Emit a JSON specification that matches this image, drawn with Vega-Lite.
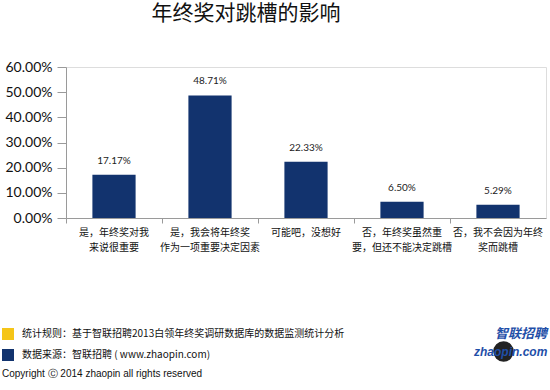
{
  "$schema": "https://vega.github.io/schema/vega-lite/v6.json",
  "autosize": {"type": "none"},
  "width": 480,
  "height": 151,
  "padding": {"left": 66, "top": 67, "right": 4, "bottom": 172},
  "background": "white",
  "title": {
    "text": "年终奖对跳槽的影响",
    "font": "Noto Sans CJK SC",
    "fontSize": 21,
    "lineHeight": 22,
    "fontWeight": "normal",
    "color": "#111111",
    "anchor": "middle",
    "dx": -60,
    "offset": 36
  },
  "data": {
    "values": [
      {"category": "是，年终奖对我\n来说很重要", "share": 0.1717},
      {"category": "是，我会将年终奖\n作为一项重要决定因素", "share": 0.4871},
      {"category": "可能吧，没想好", "share": 0.2233},
      {"category": "否，年终奖虽然重\n要，但还不能决定跳槽", "share": 0.065},
      {"category": "否，我不会因为年终\n奖而跳槽", "share": 0.0529}
    ]
  },
  "encoding": {
    "x": {
      "field": "category",
      "type": "nominal",
      "sort": null,
      "scale": {"paddingInner": 0, "paddingOuter": 0},
      "axis": {
        "title": null,
        "labelAngle": 0,
        "labelExpr": "split(datum.label, '\\n')",
        "labelFont": "Noto Sans CJK SC",
        "labelFontSize": 10,
        "labelColor": "#111111",
        "labelLineHeight": 15,
        "labelPadding": 4,
        "labelLimit": 200,
        "bandPosition": 0,
        "tickSize": 5,
        "tickColor": "#9a9a9a",
        "domainColor": "#9a9a9a",
        "grid": false
      }
    },
    "y": {
      "field": "share",
      "type": "quantitative",
      "scale": {"domain": [0, 0.6], "nice": false},
      "axis": {
        "title": null,
        "format": ".2%",
        "values": [0, 0.1, 0.2, 0.3, 0.4, 0.5, 0.6],
        "labelFont": "Lato",
        "labelFontSize": 14,
        "labelColor": "#111111",
        "labelPadding": 5,
        "tickSize": 9,
        "tickColor": "#9a9a9a",
        "domainColor": "#9a9a9a",
        "grid": false
      }
    }
  },
  "layer": [
    {
      "mark": {"type": "bar", "width": {"band": 0.45}},
      "encoding": {
        "color": {
          "datum": "数据来源：智联招聘 ( www.zhaopin.com)",
          "type": "nominal",
          "scale": {
            "domain": ["统计规则：基于智联招聘2013白领年终奖调研数据库的数据监测统计分析", "数据来源：智联招聘 ( www.zhaopin.com)"],
            "range": ["#F5C518", "#12336E"]
          },
          "legend": {
            "orient": "none",
            "legendX": -64,
            "legendY": 261,
            "title": "Copyright Ⓒ 2014 zhaopin all rights  reserved",
            "titleOrient": "bottom",
            "titleFont": "Liberation Sans",
            "titleFontSize": 10,
            "titleFontWeight": "normal",
            "titleColor": "#111111",
            "titlePadding": 8,
            "titleLimit": 400,
            "symbolType": "square",
            "symbolSize": 144,
            "symbolStrokeWidth": 0,
            "labelFont": "Noto Sans CJK SC",
            "labelFontSize": 10,
            "labelColor": "#111111",
            "labelLimit": 400,
            "labelOffset": 8,
            "rowPadding": 9
          }
        }
      }
    },
    {
      "mark": {
        "type": "text",
        "baseline": "middle",
        "dy": -14,
        "font": "Lato",
        "fontSize": 10,
        "color": "#222222"
      },
      "encoding": {
        "text": {"field": "share", "type": "quantitative", "format": ".2%"},
        "opacity": {
          "datum": "zhaopin.com",
          "type": "ordinal",
          "scale": {"range": [1]},
          "legend": {
            "orient": "none",
            "legendX": 427,
            "legendY": 261,
            "title": "智联招聘",
            "titleFont": "Noto Sans CJK SC",
            "titleFontSize": 13,
            "titleFontWeight": "bold",
            "titleFontStyle": "italic",
            "titleColor": "#1F4FA8",
            "titleAlign": "right",
            "titleAnchor": "end",
            "titlePadding": 0,
            "symbolType": "circle",
            "symbolSize": 420,
            "symbolFillColor": "#F7D23A",
            "symbolStrokeWidth": 0,
            "labelFont": "Liberation Sans",
            "labelFontSize": 12,
            "labelFontWeight": "bold",
            "labelFontStyle": "italic",
            "labelColor": "#1F4FA8",
            "labelOffset": -40
          }
        }
      }
    }
  ]
}
